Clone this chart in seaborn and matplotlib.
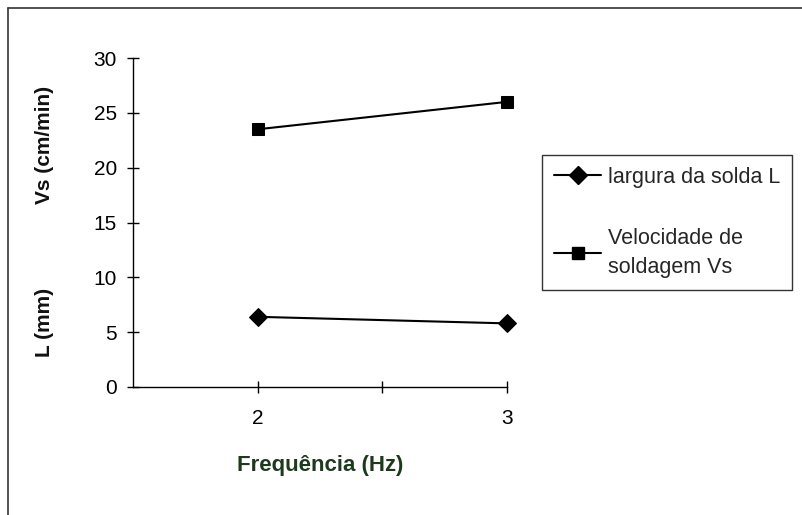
import pandas as pd
import numpy as np
import seaborn as sns
import matplotlib.pyplot as plt
from matplotlib.lines import Line2D

# Data
freq = [2, 3]
largura = [6.4, 5.8]        # L (mm)
velocidade = [23.5, 26.0]   # Vs (cm/min)
series_names = ['largura da solda L', 'Velocidade de\nsoldagem Vs']
y_ticks = [0, 5, 10, 15, 20, 25, 30]
x_ticks = [2, 2.5, 3]
x_tick_labels = ['2', '', '3']

sns.set_theme(style='white')
plt.rcParams['font.family'] = ['Liberation Sans', 'DejaVu Sans']

W, H = 803, 515
fig = plt.figure(figsize=(W / 100, H / 100), dpi=100)
ax = fig.add_axes([133 / W, 128 / H, 374 / W, 329 / H])

# Series
sns.lineplot(x=freq, y=largura, marker='D', color='black', markersize=9,
             markeredgecolor='black', linewidth=1.5, ax=ax, clip_on=False)
sns.lineplot(x=freq, y=velocidade, marker='s', color='black', markersize=9,
             markeredgecolor='black', linewidth=1.5, ax=ax, clip_on=False)

ax.set_xlim(1.5, 3)
ax.set_ylim(0, 30)
ax.set_xticks(x_ticks)
ax.set_xticklabels(x_tick_labels)
ax.set_yticks(y_ticks)
ax.set_xlabel('')
ax.set_ylabel('')

for side in ['top', 'right']:
    ax.spines[side].set_visible(False)
for side in ['left', 'bottom']:
    ax.spines[side].set_color('black')
    ax.spines[side].set_linewidth(1)

ax.tick_params(axis='both', direction='inout', length=9, width=1,
               color='black', labelsize=15, labelcolor='black')
ax.tick_params(axis='y', pad=7)
ax.tick_params(axis='x', pad=11)
ax.tick_params(left=True, bottom=True)

# Axis titles
fig.text(45 / W, 1 - 145 / H, 'Vs (cm/min)', rotation=90, ha='center', va='center',
         fontsize=15, fontweight='bold', color='#111111')
fig.text(45 / W, 1 - 322 / H, 'L (mm)', rotation=90, ha='center', va='center',
         fontsize=15, fontweight='bold', color='#111111')
fig.text(320 / W, 1 - 465 / H, 'Frequência (Hz)', ha='center', va='center',
         fontsize=16, fontweight='bold', color='#1e3a1e')

# Legend
handles = [
    Line2D([], [], color='black', marker='D', markersize=9, linewidth=1.5),
    Line2D([], [], color='black', marker='s', markersize=9, linewidth=1.5),
]
leg = fig.legend(handles, series_names, loc='upper left',
                 bbox_to_anchor=(542 / W, 1 - 155 / H), frameon=True,
                 fancybox=False, edgecolor='black', fontsize=15.5,
                 handlelength=2.2, handletextpad=0.3, borderpad=0.55,
                 labelspacing=1.85, borderaxespad=0)
leg.get_frame().set_linewidth(1)
for t in leg.get_texts():
    t.set_linespacing(1.5)

# Outer frame (only top and left edges visible in the scan)
fig.add_artist(Line2D([8 / W, 8 / W], [0, 1 - 8 / H], color='#333333', linewidth=1.2,
                      transform=fig.transFigure))
fig.add_artist(Line2D([8 / W, 1], [1 - 8 / H, 1 - 8 / H], color='#333333', linewidth=1.2,
                      transform=fig.transFigure))

fig.savefig('out.png', dpi=100)
